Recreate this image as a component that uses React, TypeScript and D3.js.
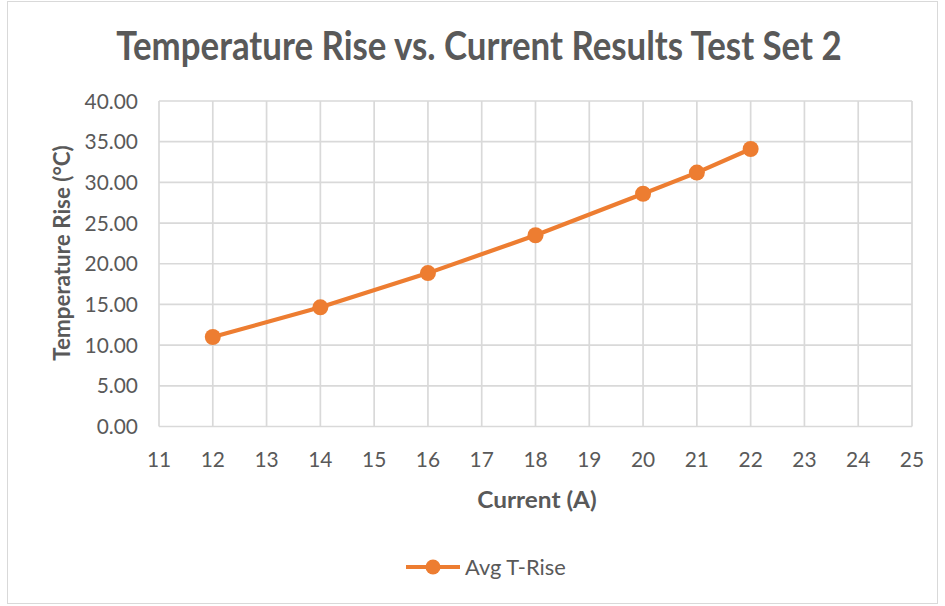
import React from "react";
import * as d3 from "d3";

const currents = [12, 14, 16, 18, 20, 21, 22];
const tempRise = [11.0, 14.65, 18.85, 23.5, 28.6, 31.2, 34.1];
const xTicks = [11, 12, 13, 14, 15, 16, 17, 18, 19, 20, 21, 22, 23, 24, 25];
const yTicks = [0, 5, 10, 15, 20, 25, 30, 35, 40];

const W = 945;
const H = 606;
const plot = { left: 159, right: 912, top: 101, bottom: 426.5 };
const orange = "#ED7D31";
const grid = "#D9D9D9";
const textColor = "#595959";
const font = "Lato, 'Open Sans', sans-serif";

// stretch text around its anchor point (source chart text is taller than wide)
const stretch = (cx: number, cy: number, sx: number, sy: number) =>
  `translate(${cx},${cy}) scale(${sx},${sy}) translate(${-cx},${-cy})`;

export default function App() {
  const x = d3.scaleLinear().domain([11, 25]).range([plot.left, plot.right]);
  const y = d3.scaleLinear().domain([0, 40]).range([plot.bottom, plot.top]);
  const points = currents.map((c, i) => [c, tempRise[i]] as [number, number]);
  const line = d3
    .line<[number, number]>()
    .x((d) => x(d[0]))
    .y((d) => y(d[1]));

  return (
    <svg
      width={W}
      height={H}
      style={{ position: "absolute", left: 0, top: 0, background: "#fff" }}
      fontFamily={font}
    >
      <rect x={7.5} y={1.5} width={930} height={602} fill="#fff" stroke={grid} />

      <text
        x={479}
        y={60}
        textAnchor="middle"
        fontSize={33}
        fontWeight="bold"
        fill={textColor}
        transform={stretch(479, 60, 1.056, 1.2)}
      >
        Temperature Rise vs. Current Results Test Set 2
      </text>

      {/* grid */}
      {yTicks.map((t) => (
        <line key={"gy" + t} x1={plot.left} x2={plot.right} y1={y(t)} y2={y(t)} stroke={grid} strokeWidth={1.7} />
      ))}
      {xTicks.map((t) => (
        <line key={"gx" + t} x1={x(t)} x2={x(t)} y1={plot.top} y2={plot.bottom} stroke={grid} strokeWidth={1.7} />
      ))}

      {/* y tick labels */}
      {yTicks.map((t) => (
        <text key={"ly" + t} x={138} y={y(t)} dy="0.35em" textAnchor="end" fontSize={19} fill={textColor}
          transform={stretch(138, y(t), 1.1, 1.15)}>
          {t.toFixed(2)}
        </text>
      ))}
      {/* x tick labels */}
      {xTicks.map((t) => (
        <text key={"lx" + t} x={x(t)} y={467} textAnchor="middle" fontSize={19} fill={textColor}
          transform={stretch(x(t), 467, 1.1, 1.15)}>
          {t}
        </text>
      ))}

      {/* axis titles */}
      <text x={537} y={508} textAnchor="middle" fontSize={20} fontWeight="bold" fill={textColor}
        transform={stretch(537, 508, 1.22, 1.15)}>
        Current (A)
      </text>
      <text
        transform={`translate(70,253) rotate(-90) scale(1.12,1.15)`}
        textAnchor="middle"
        fontSize={20}
        fontWeight="bold"
        fill={textColor}
      >
        Temperature Rise (°C)
      </text>

      {/* series */}
      <path d={line(points) ?? ""} fill="none" stroke={orange} strokeWidth={4.2} strokeLinejoin="round" />
      {points.map((p, i) => (
        <circle key={"p" + i} cx={x(p[0])} cy={y(p[1])} r={8} fill={orange} />
      ))}

      {/* legend */}
      <line x1={406} x2={460} y1={567} y2={567} stroke={orange} strokeWidth={4} />
      <circle cx={433} cy={567} r={7.5} fill={orange} />
      <text x={465} y={567} dy="0.35em" fontSize={19} fill={textColor}
        transform={stretch(465, 567, 1.15, 1.15)}>
        Avg T-Rise
      </text>
    </svg>
  );
}
